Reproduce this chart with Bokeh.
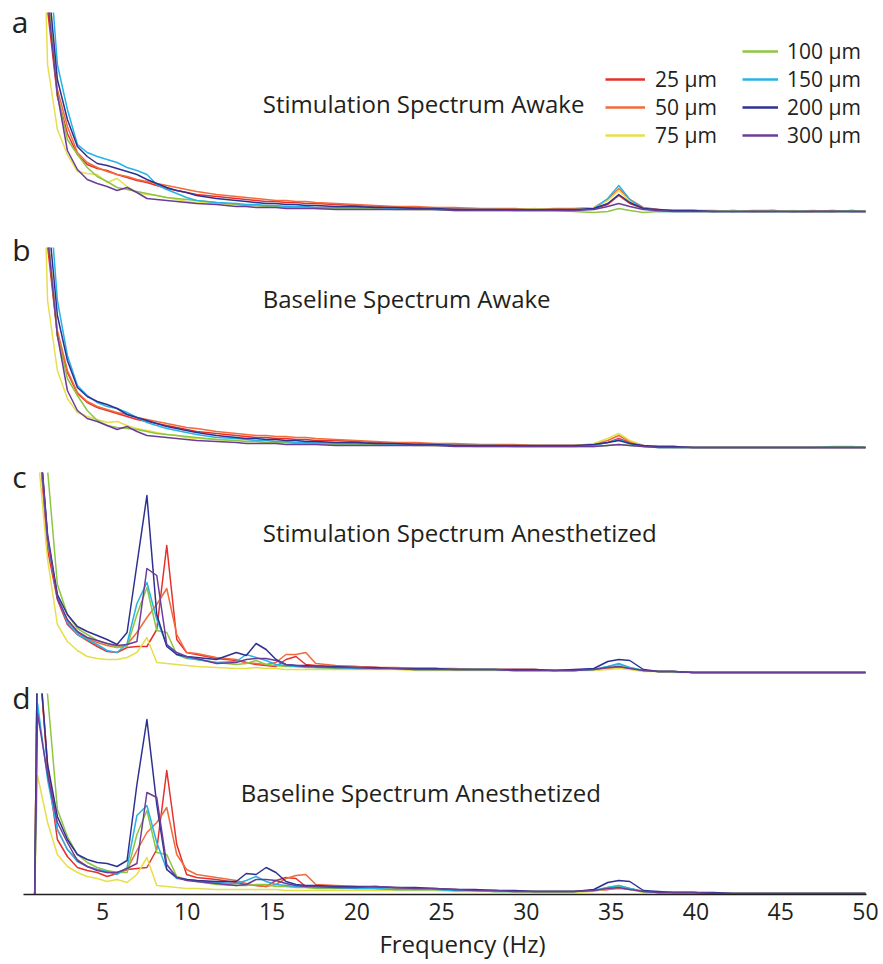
from bokeh.plotting import figure
from bokeh.models import Range1d, Label, Legend, LegendItem, FixedTicker, LinearAxis
from bokeh.layouts import column
from bokeh.embed import file_html
from bokeh.resources import INLINE

# ---------------- data ----------------
FREQ = [1.17, 1.76, 2.34, 2.93, 3.52, 4.10, 4.69, 5.27, 5.86, 6.45, 7.03, 7.62, 8.20, 8.79, 9.38, 9.96, 10.55,
        11.72, 12.89, 13.48, 14.06, 14.65, 15.23, 15.82, 16.41, 16.99, 17.58, 18.75, 19.92,
        21.09, 22.27, 23.44, 24.61, 25.78, 26.95, 28.13, 29.30, 30.47, 31.64, 32.81, 33.98, 34.80, 35.45,
        36.10, 36.90, 37.80, 38.67, 39.84, 41.02, 42.19, 43.36, 44.53, 45.70, 46.88, 48.05, 49.22, 50.00]
FREQ_D = [1.0] + FREQ

LABELS = ["25 µm", "50 µm", "75 µm", "100 µm", "150 µm", "200 µm", "300 µm"]
COLORS = ["#e5312b", "#f26b3a", "#e6df4c", "#8dc641", "#27b3e6", "#2e3192", "#6c3d98"]
TICKS = [5, 10, 15, 20, 25, 30, 35, 40, 45, 50]
TITLES = ["Stimulation Spectrum Awake", "Baseline Spectrum Awake",
          "Stimulation Spectrum Anesthetized", "Baseline Spectrum Anesthetized"]
LETTERS = ["a", "b", "c", "d"]
X_LABEL = "Frequency (Hz)"

# Panel a: stimulation, awake
A_25 = [700, 205, 118, 81, 60, 50, 46, 44, 40, 37, 34, 32, 29, 26, 24, 22, 20] + \
       [18, 16, 15, 14, 13, 13, 12, 12, 11, 11, 10, 9] + \
       [8, 7, 7, 6, 6, 6, 5, 5, 5, 5, 5, 6, 10, 19, 11, 6, 4, 4, 4, 3, 4, 3, 4, 3, 3, 4, 3, 3]
A_50 = [720, 220, 125, 88, 62, 52, 47, 43, 40, 38, 35, 33, 31, 29, 27, 25, 23] + \
       [20, 18, 17, 16, 15, 14, 14, 13, 13, 12, 11, 10] + \
       [9, 8, 8, 7, 7, 6, 6, 6, 5, 6, 6, 7, 15, 26, 15, 7, 5, 4, 4, 4, 3, 4, 4, 3, 4, 3, 4, 3]
A_75 = [520, 150, 85, 60, 43, 41, 40, 32, 36, 28, 22, 20, 19, 17, 15, 13, 12] + \
       [11, 10, 9, 9, 8, 8, 8, 7, 7, 7, 7, 6] + \
       [6, 6, 5, 5, 5, 5, 5, 5, 6, 5, 5, 7, 14, 24, 13, 6, 4, 4, 3, 3, 4, 3, 3, 4, 3, 3, 3, 4]
A_100 = [650, 225, 120, 75, 60, 47, 38, 33, 27, 25, 23, 21, 19, 17, 16, 15, 14] + \
        [12, 10, 9, 9, 8, 8, 7, 7, 7, 6, 6, 6] + \
        [6, 5, 5, 5, 4, 4, 4, 4, 4, 4, 3, 2, 3, 6, 4, 2, 3, 3, 3, 3, 3, 3, 3, 3, 3, 3, 4, 3]
A_150 = [800, 280, 150, 105, 70, 62, 58, 55, 52, 47, 44, 40, 30, 25, 21, 17, 14] + \
        [12, 11, 10, 10, 9, 9, 8, 8, 8, 7, 7, 7] + \
        [7, 6, 6, 5, 5, 5, 5, 4, 4, 4, 4, 6, 16, 29, 15, 6, 3, 3, 3, 3, 3, 3, 3, 3, 3, 3, 3, 3]
A_200 = [750, 240, 135, 95, 68, 58, 51, 49, 46, 43, 40, 35, 31, 27, 24, 22, 19] + \
        [16, 14, 13, 12, 11, 11, 10, 10, 9, 9, 8, 8] + \
        [7, 7, 6, 6, 5, 5, 5, 5, 5, 5, 5, 6, 11, 20, 12, 6, 5, 4, 4, 3, 3, 3, 3, 3, 3, 3, 3, 3]
A_300 = [680, 215, 120, 64, 45, 35, 31, 28, 24, 27, 22, 16, 15, 14, 13, 12, 11] + \
        [10, 8, 8, 7, 7, 7, 6, 6, 6, 6, 5, 5] + \
        [5, 5, 5, 5, 4, 4, 4, 4, 4, 4, 4, 5, 8, 11, 8, 5, 4, 3, 3, 3, 3, 3, 3, 3, 3, 3, 3, 3]

# Panel b: baseline, awake
B_25 = [700, 205, 115, 78, 57, 48, 43, 40, 37, 34, 31, 29, 27, 25, 23, 21, 19] + \
       [17, 15, 14, 13, 13, 12, 12, 11, 11, 10, 10, 9] + \
       [8, 7, 7, 6, 6, 6, 5, 5, 5, 5, 5, 6, 8, 12, 8, 5, 4, 4, 3, 3, 3, 3, 3, 3, 3, 3, 3, 3]
B_50 = [720, 215, 120, 80, 58, 49, 44, 41, 38, 36, 33, 31, 29, 27, 25, 23, 22] + \
       [19, 17, 16, 15, 15, 14, 14, 13, 13, 12, 11, 10] + \
       [9, 8, 8, 7, 7, 6, 6, 6, 5, 5, 5, 6, 10, 15, 9, 5, 4, 4, 3, 3, 3, 3, 3, 3, 3, 3, 3, 3]
B_75 = [520, 150, 80, 52, 38, 34, 31, 28, 29, 25, 22, 20, 18, 16, 15, 13, 12] + \
       [11, 10, 9, 9, 8, 8, 8, 7, 7, 7, 7, 6] + \
       [6, 6, 6, 5, 5, 5, 5, 5, 5, 5, 5, 7, 12, 17, 10, 5, 4, 3, 3, 3, 3, 3, 3, 3, 3, 3, 3, 3]
B_100 = [650, 220, 115, 72, 55, 40, 30, 25, 23, 22, 21, 19, 17, 16, 15, 14, 13] + \
        [11, 10, 9, 9, 8, 8, 8, 7, 7, 7, 6, 6] + \
        [6, 6, 5, 5, 5, 4, 4, 4, 4, 4, 4, 4, 5, 6, 5, 4, 3, 3, 3, 3, 3, 3, 3, 3, 3, 4, 4, 3]
B_150 = [800, 280, 150, 95, 65, 55, 48, 44, 42, 38, 33, 28, 25, 22, 20, 18, 16] + \
        [13, 12, 11, 10, 10, 9, 9, 8, 8, 8, 7, 7] + \
        [7, 6, 6, 6, 5, 5, 5, 4, 4, 4, 4, 5, 8, 11, 7, 4, 3, 3, 3, 3, 3, 3, 3, 3, 3, 3, 3, 3]
B_200 = [750, 240, 135, 90, 63, 54, 49, 46, 42, 36, 33, 30, 27, 24, 22, 20, 18] + \
        [15, 13, 12, 12, 11, 11, 10, 10, 9, 9, 8, 8] + \
        [7, 7, 6, 6, 5, 5, 5, 5, 5, 5, 5, 6, 8, 10, 7, 5, 4, 4, 3, 3, 3, 3, 3, 3, 3, 3, 3, 3]
B_300 = [680, 215, 115, 60, 40, 32, 29, 25, 21, 24, 19, 15, 14, 13, 12, 11, 10] + \
        [9, 8, 7, 7, 7, 7, 6, 6, 6, 6, 5, 5] + \
        [5, 5, 5, 5, 4, 4, 4, 4, 4, 4, 4, 4, 5, 6, 5, 4, 3, 3, 3, 3, 3, 3, 3, 3, 3, 3, 3, 3]

# Panel c: stimulation, anesthetized
C_25 = [253, 125, 75, 50, 40, 34, 28, 23, 22, 27, 28, 28, 45, 129, 35, 22, 20] + \
       [16, 14, 12, 10, 9, 8, 15, 18, 10, 9, 8, 8] + \
       [7, 6, 6, 6, 5, 5, 5, 5, 5, 4, 4, 5, 6, 7, 6, 4, 3, 3, 2, 2, 2, 2, 2, 2, 2, 2, 2, 2]
C_50 = [258, 132, 78, 54, 42, 36, 32, 29, 27, 30, 42, 57, 70, 86, 40, 22, 21] + \
       [17, 15, 12, 11, 10, 12, 20, 20, 22, 11, 9, 8] + \
       [7, 7, 6, 6, 6, 5, 5, 5, 5, 4, 4, 5, 6, 8, 6, 4, 3, 3, 2, 2, 2, 2, 2, 2, 2, 2, 2, 2]
C_75 = [224, 115, 50, 33, 24, 18, 16, 15, 15, 17, 22, 37, 12, 11, 10, 9, 8] + \
       [7, 6, 6, 7, 6, 6, 5, 5, 5, 5, 5, 5] + \
       [5, 5, 4, 4, 4, 4, 4, 4, 4, 4, 4, 4, 5, 6, 5, 3, 3, 2, 2, 2, 2, 2, 2, 2, 2, 2, 2, 2]
C_100 = [500, 205, 90, 60, 46, 40, 34, 31, 27, 28, 60, 87, 44, 42, 20, 16, 15] + \
        [12, 10, 11, 14, 10, 9, 8, 8, 7, 7, 6, 6] + \
        [6, 6, 5, 5, 5, 5, 5, 4, 4, 4, 4, 5, 8, 10, 7, 4, 3, 3, 2, 2, 2, 2, 2, 2, 2, 2, 2, 2]
C_150 = [262, 135, 78, 52, 40, 35, 30, 24, 22, 31, 71, 92, 55, 30, 20, 17, 15] + \
        [12, 13, 20, 17, 14, 10, 9, 8, 8, 7, 7, 6] + \
        [6, 6, 5, 5, 5, 5, 5, 4, 4, 4, 4, 5, 8, 11, 7, 4, 3, 3, 2, 2, 2, 2, 2, 2, 2, 2, 2, 2]
C_200 = [264, 140, 80, 60, 48, 43, 39, 35, 30, 42, 110, 179, 60, 28, 20, 18, 17] + \
        [15, 22, 19, 31, 25, 15, 10, 9, 9, 8, 8, 7] + \
        [7, 6, 6, 6, 5, 5, 5, 5, 5, 4, 5, 6, 13, 15, 14, 5, 3, 3, 2, 2, 2, 2, 2, 2, 2, 2, 2, 2]
C_300 = [262, 138, 76, 55, 43, 37, 34, 31, 29, 30, 33, 106, 99, 30, 22, 18, 16] + \
        [11, 12, 15, 16, 16, 14, 10, 9, 8, 8, 7, 7] + \
        [6, 6, 5, 5, 5, 5, 5, 4, 4, 4, 4, 5, 7, 8, 6, 4, 3, 3, 2, 2, 2, 2, 2, 2, 2, 2, 2, 2]

# Panel d: baseline, anesthetized (starts at zero at 1 Hz)
D_25 = [0] + [260, 125, 55, 38, 27, 24, 22, 18, 21, 25, 26, 27, 45, 124, 50, 20, 17] + \
       [15, 12, 10, 9, 8, 14, 17, 16, 8, 8, 8, 7] + \
       [7, 6, 6, 5, 5, 4, 4, 3, 3, 3, 3, 4, 5, 7, 6, 3, 2, 2, 2, 1, 1, 1, 1, 1, 1, 1, 1, 1]
D_50 = [0] + [260, 130, 65, 45, 35, 28, 25, 22, 22, 25, 44, 62, 72, 87, 40, 25, 20] + \
       [17, 14, 11, 9, 8, 10, 16, 19, 20, 10, 9, 8] + \
       [6, 6, 6, 5, 5, 4, 4, 3, 3, 3, 3, 4, 5, 6, 5, 3, 2, 2, 2, 1, 1, 1, 1, 1, 1, 1, 1, 1]
D_75 = [0] + [119, 72, 40, 28, 22, 18, 16, 13, 15, 12, 20, 37, 9, 8, 7, 6, 6] + \
       [5, 5, 5, 5, 5, 5, 4, 4, 4, 4, 4, 4] + \
       [4, 4, 4, 4, 3, 3, 3, 3, 2, 2, 2, 3, 6, 8, 5, 2, 2, 1, 1, 1, 1, 1, 1, 1, 1, 1, 1, 1]
D_100 = [0] + [260, 200, 85, 58, 40, 32, 27, 24, 22, 22, 60, 84, 42, 40, 18, 15, 13] + \
        [10, 9, 9, 10, 10, 8, 8, 7, 7, 6, 6, 6] + \
        [6, 5, 5, 5, 4, 4, 3, 3, 3, 3, 3, 4, 7, 9, 6, 3, 2, 2, 2, 1, 1, 1, 1, 1, 1, 1, 1, 1]
D_150 = [0] + [191, 115, 65, 45, 33, 28, 25, 23, 20, 27, 79, 89, 52, 25, 16, 15, 14] + \
        [12, 11, 14, 18, 13, 10, 9, 8, 8, 7, 7, 6] + \
        [6, 5, 5, 5, 4, 4, 3, 3, 3, 3, 3, 4, 7, 9, 6, 3, 2, 2, 2, 1, 1, 1, 1, 1, 1, 1, 1, 1]
D_200 = [0] + [260, 130, 78, 55, 40, 35, 32, 31, 28, 34, 110, 175, 90, 25, 17, 15, 14] + \
        [13, 13, 21, 20, 27, 22, 13, 10, 9, 9, 8, 8] + \
        [8, 7, 7, 6, 5, 5, 4, 4, 3, 3, 3, 5, 12, 14, 13, 4, 3, 2, 2, 2, 1, 1, 1, 1, 1, 1, 1, 1]
D_300 = [0] + [181, 120, 72, 52, 34, 28, 24, 22, 22, 26, 31, 102, 97, 30, 17, 14, 13] + \
        [11, 9, 10, 15, 15, 14, 11, 9, 8, 8, 7, 7] + \
        [8, 7, 6, 6, 5, 4, 4, 3, 3, 3, 3, 4, 6, 7, 5, 3, 2, 2, 2, 1, 1, 1, 1, 1, 1, 1, 1, 1]

PANELS = [
    (FREQ, [A_25, A_50, A_75, A_100, A_150, A_200, A_300]),
    (FREQ, [B_25, B_50, B_75, B_100, B_150, B_200, B_300]),
    (FREQ, [C_25, C_50, C_75, C_100, C_150, C_200, C_300]),
    (FREQ_D, [D_25, D_50, D_75, D_100, D_150, D_200, D_300]),
]

# ---------------- layout / style ----------------
FONT = "Open Sans"
INK = "#231f20"
X0, X1 = 0.341, 50.06
FRAME_W = 843
FRAME_H = [202, 203, 202, 201]
TOP = [12, 33, 22, 19]
LETTER_TICK = [193, 201, 198, 197]
LETTER_STANDOFF = [-5, -7, -3, -7]
TITLE_X = [14.45, 14.45, 14.45, 13.15]
TITLE_Y = [111, 152, 142, 102]
X_LABEL_POS = 26.23


def bare_axis(ticks, overrides, size, standoff):
    return LinearAxis(ticker=FixedTicker(ticks=ticks), major_label_overrides=overrides,
                      axis_line_color=None, major_tick_line_color=None,
                      minor_tick_line_color=None, major_tick_in=0, major_tick_out=0,
                      major_label_standoff=standoff, major_label_text_font=FONT,
                      major_label_text_font_size=size, major_label_text_color=INK)


figs = []
for i, (xs, series) in enumerate(PANELS):
    last = i == 3
    p = figure(frame_width=FRAME_W, frame_height=FRAME_H[i],
               x_range=Range1d(X0, X1), y_range=Range1d(0, FRAME_H[i]),
               x_axis_type="linear" if last else None, y_axis_type=None,
               min_border_left=23, min_border_right=14, min_border_top=TOP[i],
               min_border_bottom=0,
               output_backend="svg", toolbar_location=None)
    p.outline_line_color = None
    p.background_fill_color = "white"
    p.border_fill_color = "white"
    for ys, col in zip(series, COLORS):
        p.line(xs, ys, line_color=col, line_width=1.5, line_join="round")

    # panel letter, drawn as the single tick label of a bare left axis
    t = LETTER_TICK[i]
    p.add_layout(bare_axis([t], {t: LETTERS[i]}, "30px", LETTER_STANDOFF[i]), "left")

    if last:
        p.xgrid.visible = False
        ax = p.xaxis[0]
        ax.ticker = FixedTicker(ticks=TICKS)
        ax.major_tick_line_color = None
        ax.minor_tick_line_color = None
        ax.major_tick_in = 0
        ax.major_tick_out = 0
        ax.axis_line_color = INK
        ax.axis_line_width = 1.5
        ax.major_label_text_font = FONT
        ax.major_label_text_font_size = "23px"
        ax.major_label_text_color = INK
        ax.major_label_standoff = 8
        # axis title placed under the tick labels, off-centre as in the original
        p.add_layout(bare_axis([X_LABEL_POS], {X_LABEL_POS: X_LABEL}, "24px", 4), "below")
    p.add_layout(Label(x=TITLE_X[i], y=TITLE_Y[i], text=TITLES[i], text_font=FONT,
                       text_font_size="24px", text_color=INK, text_align="left",
                       text_baseline="alphabetic"))
    figs.append(p)

# legend in panel a (two columns); legend-only renderers have no visible points
pa = figs[0]
nan_y = [float("nan")] * len(FREQ)
dummies = [pa.line(FREQ, nan_y, line_color=c, line_width=2.6) for c in COLORS]


def make_legend(idx, x, gw, standoff):
    return Legend(items=[LegendItem(label=LABELS[k], renderers=[dummies[k]]) for k in idx],
                  location=(x, 65), orientation="vertical",
                  background_fill_alpha=0, border_line_color=None,
                  padding=0, margin=0, spacing=0,
                  glyph_height=20, glyph_width=gw, label_height=20,
                  label_standoff=standoff, label_text_font=FONT,
                  label_text_font_size="21px", label_text_color=INK)


pa.add_layout(make_legend([0, 1, 2], 582, 40, 10))
pa.add_layout(make_legend([3, 4, 5, 6], 719, 36, 9))

layout = column(*figs, spacing=0)
open("out.html", "w").write(file_html(layout, INLINE))
